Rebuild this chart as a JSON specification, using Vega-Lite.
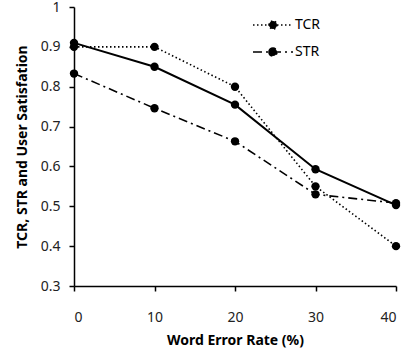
{
  "$schema": "https://vega.github.io/schema/vega-lite/v6.json",
  "width": 322,
  "height": 279,
  "autosize": {"type": "none"},
  "padding": {"left": 74, "top": 7, "right": 12, "bottom": 66},
  "background": "white",
  "config": {
    "view": {"stroke": null},
    "font": "Noto Sans",
    "axis": {
      "grid": false,
      "domainColor": "black",
      "domainWidth": 1.5,
      "tickColor": "black",
      "tickWidth": 1.5,
      "tickSize": 5,
      "labelFont": "Noto Sans",
      "labelFontSize": 14,
      "labelColor": "#222",
      "titleFont": "Noto Sans",
      "titleFontSize": 14,
      "titleFontWeight": "bold",
      "titleColor": "black"
    }
  },
  "data": {
    "values": [
      {"wer": 0, "series": "TCR", "value": 0.90},
      {"wer": 10, "series": "TCR", "value": 0.90},
      {"wer": 20, "series": "TCR", "value": 0.80},
      {"wer": 30, "series": "TCR", "value": 0.55},
      {"wer": 40, "series": "TCR", "value": 0.40},
      {"wer": 0, "series": "STR", "value": 0.833},
      {"wer": 10, "series": "STR", "value": 0.746},
      {"wer": 20, "series": "STR", "value": 0.663},
      {"wer": 30, "series": "STR", "value": 0.53},
      {"wer": 40, "series": "STR", "value": 0.508},
      {"wer": 0, "series": "User Satisfaction", "value": 0.91},
      {"wer": 10, "series": "User Satisfaction", "value": 0.85},
      {"wer": 20, "series": "User Satisfaction", "value": 0.755},
      {"wer": 30, "series": "User Satisfaction", "value": 0.593},
      {"wer": 40, "series": "User Satisfaction", "value": 0.503}
    ]
  },
  "encoding": {
    "x": {
      "field": "wer",
      "type": "quantitative",
      "scale": {"domain": [0, 40], "nice": false, "zero": false},
      "axis": {
        "values": [0, 10, 20, 30, 40],
        "title": "Word Error Rate (%)",
        "labelPadding": 19,
        "titlePadding": 9
      }
    },
    "y": {
      "field": "value",
      "type": "quantitative",
      "scale": {"domain": [0.3, 1], "nice": false, "zero": false},
      "axis": {
        "values": [0.3, 0.4, 0.5, 0.6, 0.7, 0.8, 0.9, 1],
        "labelExpr": "datum.value == 1 ? '1' : format(datum.value, '.1f')",
        "title": "TCR, STR and User Satisfation",
        "labelPadding": 9,
        "titlePadding": 11
      }
    }
  },
  "layer": [
    {
      "transform": [{"filter": "datum.series != 'User Satisfaction'"}],
      "mark": {"type": "line", "color": "black", "strokeWidth": 1.6},
      "encoding": {
        "strokeDash": {
          "field": "series",
          "type": "nominal",
          "scale": {"domain": ["TCR", "STR"], "range": [[1.5, 2.5], [9, 4, 2, 4]]},
          "legend": {
            "title": null,
            "orient": "none",
            "legendX": 188,
            "legendY": 7,
            "symbolType": "M-2,0H2M-0.4,0A0.4,0.4 0 1 1 0.4,0A0.4,0.4 0 1 1 -0.4,0Z",
            "symbolSize": 400,
            "symbolStrokeColor": "black",
            "symbolFillColor": "black",
            "symbolStrokeWidth": 1.6,
            "labelFont": "Noto Sans",
            "labelFontSize": 14,
            "labelColor": "black",
            "labelOffset": 11,
            "rowPadding": 8
          }
        }
      }
    },
    {
      "transform": [{"filter": "datum.series == 'User Satisfaction'"}],
      "mark": {"type": "line", "color": "black", "strokeWidth": 2}
    },
    {
      "mark": {"type": "point", "filled": true, "color": "black", "size": 70, "opacity": 1}
    }
  ]
}
